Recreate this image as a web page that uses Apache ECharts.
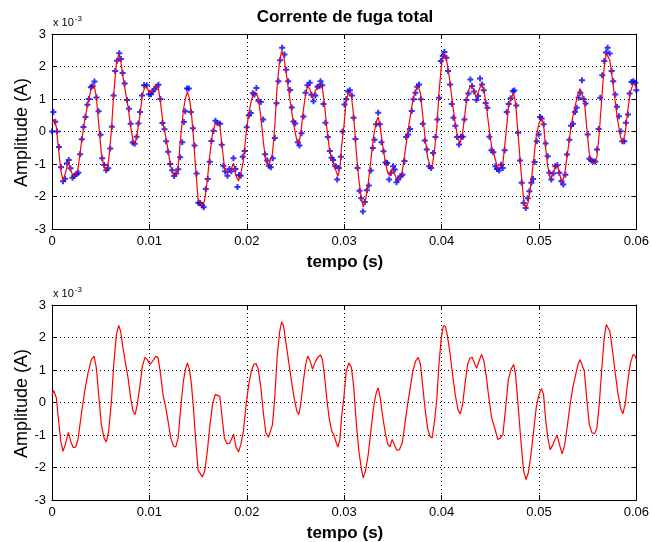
<!DOCTYPE html>
<html>
<head>
<meta charset="utf-8">
<script src="https://cdn.jsdelivr.net/npm/echarts@6/dist/echarts.min.js"></script>
<style>
html,body{margin:0;padding:0;background:#fff;}
#main{width:652px;height:542px;}
</style>
</head>
<body>
<div id="main"></div>
<script>
// tempo em ms, amplitude em 1e-3 A

// pontos azuis (amostras) do grafico de cima
var dotsTop = [
[0,0],[0.14,0.6],[0.34,0.3],[0.52,0.0],[0.72,-0.48],[0.93,-1.1],[1.13,-1.53],[1.34,-1.45],[1.55,-0.98],[1.72,-0.88],
[1.89,-1.13],[2.1,-1.42],[2.3,-1.36],[2.51,-1.31],[2.71,-1.27],[2.89,-0.7],[3.06,-0.24],[3.23,0.14],[3.44,0.45],[3.64,0.82],
[3.78,1.0],[3.99,1.36],[4.16,1.4],[4.36,1.54],[4.57,1.05],[4.78,0.62],[4.98,-0.1],[5.15,-0.82],[5.36,-1.03],[5.57,-1.19],
[5.77,-1.13],[5.98,-0.52],[6.15,0.15],[6.32,1.11],[6.49,1.86],[6.67,2.18],[6.91,2.41],[7.08,2.23],[7.25,1.8],[7.46,1.48],
[7.7,0.97],[7.9,0.7],[8.08,0.24],[8.28,-0.34],[8.49,-0.38],[8.69,-0.16],[8.87,0.25],[9.04,0.6],[9.24,1.11],[9.45,1.42],
[9.73,1.42],[9.97,1.15],[10.17,1.15],[10.34,1.24],[10.52,1.3],[10.72,1.38],[10.93,1.44],[11.13,1.0],[11.34,0.26],[11.55,0.07],
[11.72,-0.3],[11.92,-0.62],[12.13,-1.0],[12.34,-1.19],[12.54,-1.37],[12.75,-1.29],[12.96,-1.16],[13.16,-0.79],[13.37,-0.33],[13.54,0.29],
[13.68,0.62],[13.85,1.32],[14.05,1.32],[14.26,0.6],[14.47,0.1],[14.64,-0.43],[14.85,-1.29],[15.02,-2.19],
[15.21,-2.2],[15.41,-2.27],[15.58,-2.33],[15.79,-1.77],[15.99,-1.46],[16.2,-0.93],[16.37,-0.29],[16.58,0.02],[16.78,0.33],[16.99,0.26],
[17.26,0.24],[17.43,-0.41],[17.6,-1.05],[17.77,-1.22],[18.01,-1.36],[18.22,-1.15],[18.42,-1.22],[18.63,-0.82],[18.84,-1.15],[19.04,-1.71],
[19.21,-1.34],[19.38,-1.36],[19.59,-0.78],[19.79,-0.6],[20.0,0.13],[20.21,0.49],[20.41,0.57],[20.62,1.18],[20.79,1.14],[20.99,1.34],
[21.2,0.95],[21.44,0.91],[21.68,0.37],[21.88,-0.7],[22.09,-0.89],[22.26,-1.05],[22.47,-1.1],[22.67,-0.82],[22.88,-0.2],[23.05,0.87],
[23.25,1.55],[23.42,2.19],[23.63,2.58],[23.87,2.37],[24.04,1.9],[24.25,1.55],[24.45,1.28],[24.62,0.74],[24.79,0.31],[24.97,0.25],
[25.24,-0.33],[25.41,-0.43],[25.62,-0.05],[25.82,0.46],[26.03,1.19],[26.23,1.42],[26.47,1.5],[26.64,1.13],[26.85,0.93],[27.05,1.11],
[27.26,1.38],[27.47,1.4],
[27.57,1.55],[27.74,1.42],[27.88,0.85],[28.08,0.27],[28.32,-0.17],[28.53,-0.6],[28.7,-0.81],[28.87,-0.88],[29.08,-1.07],[29.28,-1.48],
[29.45,-1.12],[29.66,-0.78],[29.83,0.0],[30.03,0.83],[30.21,0.99],[30.38,1.23],[30.58,1.27],[30.79,1.11],[30.96,0.42],[31.16,-0.23],
[31.37,-1.12],[31.57,-1.82],[31.74,-2.05],[31.92,-2.46],[32.12,-2.17],[32.33,-1.81],[32.53,-1.66],[32.74,-1.2],[32.94,-0.51],[33.11,-0.25],
[33.28,0.22],[33.49,0.58],[33.66,0.22],[33.83,-0.33],[34.04,-0.61],[34.24,-0.95],[34.41,-0.97],[34.62,-1.48],[34.82,-1.27],[35.03,-1.07],
[35.2,-1.17],[35.37,-1.56],[35.54,-1.48],[35.78,-1.38],[35.98,-1.33],[36.19,-0.91],[36.36,-0.17],[36.57,-0.09],[36.77,0.08],[36.94,0.63],
[37.11,0.99],[37.32,1.19],[37.49,1.38],[37.69,1.45],[37.87,0.99],[38.07,0.24],[38.28,-0.28],[38.48,-0.55],[38.72,-1.07],[38.93,-1.12],
[39.13,-0.66],[39.37,-0.17],[39.58,0.37],[39.75,1.04],[39.92,2.17],[40.12,2.32],[40.29,2.45],[40.5,2.27],[40.67,1.86],[40.88,1.45],
[41.05,0.85],[41.22,0.42],[41.42,0.18],[41.59,-0.17],[41.8,-0.4],[42.0,-0.16],[42.18,-0.16],[42.35,0.37],[42.55,0.97],[42.76,1.17],
[42.96,1.6],[43.13,1.4],[43.34,1.23],[43.58,0.97],[43.75,1.09],[43.95,1.63],[44.16,1.45],[44.33,1.27],[44.53,0.88],[44.71,0.73],
[44.91,-0.16],[45.12,-0.58],[45.32,-0.64],[45.53,-1.07],[45.7,-1.15],[45.9,-1.2],[46.11,-1.02],[46.28,-1.12],[46.48,-0.58],[46.69,0.6],
[46.89,0.85],[47.1,1.02],[47.31,1.24],[47.48,1.26],[47.68,0.8],[47.85,-0.04],[48.06,-0.89],[48.23,-1.58],[48.43,-2.2],[48.64,-2.35],
[48.84,-2.05],[49.02,-1.84],[49.22,-1.58],[49.39,-1.46],[49.56,-0.94],[49.77,-0.3],[49.97,-0.09],[50.11,0.45],[50.28,0.4],[50.48,0.22],
[50.69,-0.37],[50.9,-0.76],[51.07,-1.27],[51.27,-1.48],[51.48,-1.29],[51.68,-1.07],[51.89,-1.04],[52.09,-1.27],[52.3,-1.53],[52.5,-1.63],
[52.71,-1.33],[52.88,-0.71],[53.12,-0.25],[53.29,0.18],[53.5,0.24],[53.7,0.6],[53.87,0.73],[54.08,1.04],[54.25,1.19],[54.42,1.58],
[54.59,1.0],[54.79,0.86],[55.0,-0.09],[55.17,-0.84],[55.38,-0.89],[55.58,-0.92],[55.79,-0.92],[55.96,-0.55],[56.13,0.08],[56.3,1.04],
[56.5,1.73],[56.71,2.17],[56.88,2.43],[57.05,2.58],[57.26,2.4],[57.46,1.86],[57.63,1.55],[57.84,1.14],[58.01,0.76],[58.21,0.47],
[58.39,0.01],[58.56,-0.3],[58.76,-0.3],[58.93,0.27],[59.14,0.52],[59.31,1.17],[59.51,1.52],[59.69,1.55],[59.89,1.5],[60.0,1.27]
];

// curva vermelha (sinal filtrado), igual nos dois graficos
var curve = [
[0,0.22],[0.17,0.37],[0.45,0.14],[0.68,-0.57],[0.9,-1.19],[1.13,-1.5],[1.37,-1.29],[1.68,-0.92],[1.92,-1.19],[2.19,-1.39],
[2.43,-1.37],[2.67,-1.14],[3.01,-0.37],[3.36,0.35],[3.7,0.91],[4.04,1.32],[4.32,1.43],[4.55,1.07],[4.79,0.25],[5.07,-0.68],
[5.34,-1.09],[5.58,-1.21],[5.82,-0.88],[6.1,0.04],[6.34,1.17],[6.61,2.09],[6.85,2.37],[7.05,2.19],[7.29,1.68],[7.57,1.17],
[7.81,0.76],[8.08,0.14],[8.32,-0.27],[8.53,-0.37],[8.73,-0.11],[9.0,0.45],[9.28,1.12],[9.55,1.39],[9.79,1.32],[10.07,1.17],
[10.34,1.27],[10.65,1.42],[10.89,1.39],[11.13,0.91],[11.4,0.25],[11.68,-0.16],[11.92,-0.57],[12.19,-1.09],[12.47,-1.34],[12.71,-1.37],
[12.95,-1.09],[13.22,-0.16],[13.49,0.66],[13.7,1.02],[13.9,1.22],[14.11,1.02],[14.32,0.55],[14.55,-0.27],[14.76,-1.19],[15.0,-2.08],
[15.44,-2.29],[15.68,-2.11],[15.95,-1.5],[16.22,-0.68],[16.49,-0.06],[16.76,0.25],[16.96,0.3],[17.23,0.19],[17.47,-0.47],[17.7,-1.09],
[17.97,-1.27],[18.24,-1.26],[18.48,-1.09],[18.65,-0.98],[18.89,-1.37],[19.16,-1.52],[19.39,-1.29],[19.66,-0.88],[19.93,-0.06],[20.2,0.55],
[20.47,0.96],[20.71,1.17],[20.95,1.2],[21.18,1.02],[21.45,0.45],[21.72,-0.37],[21.96,-0.93],[22.23,-1.07],[22.43,-1.07],[22.64,-0.68],
[22.87,0.14],[23.11,1.37],[23.38,2.19],[23.58,2.48],[23.78,2.35],[24.05,1.78],[24.32,1.22],[24.59,0.66],[24.86,0.14],[25.14,-0.27],
[25.34,-0.37],[25.54,-0.06],[25.81,0.66],[26.05,1.17],[26.25,1.43],[26.49,1.29],[26.76,1.02],[27.03,1.25],[27.3,1.39],[27.57,1.46],
[27.77,1.32],[27.97,0.86],[28.21,0.14],[28.45,-0.47],[28.72,-0.88],[28.95,-1.01],[29.19,-1.24],[29.36,-1.37],[29.56,-1.14],[29.73,-0.47],
[30.0,0.25],[30.21,0.96],[30.48,1.22],[30.75,1.07],[30.99,0.45],[31.23,-0.57],[31.51,-1.5],[31.75,-2.01],[31.95,-2.32],[32.19,-2.11],
[32.47,-1.6],[32.74,-0.88],[33.01,-0.16],[33.29,0.3],[33.49,0.45],[33.7,0.14],[33.97,-0.47],[34.25,-0.98],[34.49,-1.29],[34.69,-1.36],
[34.93,-1.14],[35.14,-1.29],[35.41,-1.47],[35.68,-1.45],[35.96,-1.24],[36.23,-0.68],[36.51,-0.06],[36.78,0.45],[37.05,0.96],[37.33,1.27],
[37.6,1.39],[37.84,1.17],[38.08,0.45],[38.32,-0.22],[38.56,-0.78],[38.8,-1.04],[39.04,-1.09],[39.28,-0.57],[39.52,0.14],[39.73,1.17],
[39.97,1.99],[40.17,2.35],[40.38,2.35],[40.58,2.09],[40.86,1.53],[41.13,0.86],[41.4,0.25],[41.68,-0.22],[41.92,-0.35],[42.16,-0.06],
[42.4,0.55],[42.67,1.17],[42.91,1.37],[43.15,1.39],[43.36,1.22],[43.6,1.05],[43.84,1.27],[44.11,1.48],[44.35,1.27],[44.59,0.81],
[44.86,0.14],[45.14,-0.47],[45.5,-0.83],[45.77,-1.14],[46.04,-1.09],[46.3,-0.98],[46.58,-0.16],[46.86,0.71],[47.13,1.02],[47.4,1.17],
[47.6,0.86],[47.88,-0.16],[48.15,-1.19],[48.43,-2.11],[48.67,-2.37],[48.91,-2.16],[49.18,-1.6],[49.45,-0.88],[49.72,-0.16],[50.0,0.25],
[50.26,0.43],[50.47,0.25],[50.67,-0.47],[50.91,-1.09],[51.15,-1.45],[51.42,-1.31],[51.63,-1.14],[51.87,-1.01],[52.1,-1.29],[52.38,-1.58],
[52.65,-1.29],[52.93,-0.68],[53.2,-0.06],[53.47,0.45],[53.74,0.81],[54.01,1.17],[54.22,1.32],[54.42,1.32],[54.66,0.96],[54.9,0.14],
[55.17,-0.68],[55.44,-0.93],[55.71,-0.96],[55.95,-0.78],[56.19,-0.06],[56.46,1.07],[56.7,1.99],[56.91,2.4],[57.08,2.45],[57.28,2.19],
[57.56,1.58],[57.83,0.91],[58.1,0.3],[58.37,-0.16],[58.61,-0.35],[58.85,-0.06],[59.12,0.66],[59.4,1.22],[59.67,1.48],[59.88,1.43],
[60.0,1.32]
];

var xTicks = [0, 10, 20, 30, 40, 50, 60];          // ms -> 0 .. 0.06 s
var yTicks = [-3, -2, -1, 0, 1, 2, 3];             // x 10^-3 A
var titleText = 'Corrente de fuga total';
var xName = 'tempo (s)';
var yName = 'Amplitude (A)';

var chart = echarts.init(document.getElementById('main'), null, {renderer: 'canvas'});
var fontFam = '"Liberation Sans", Arial, Helvetica, sans-serif';
var grids = [
    {left: 52, top: 34, width: 586, height: 195},
    {left: 52, top: 305, width: 586, height: 195}
];

function xFmt(v) { return v === 0 ? '0' : (v / 1000).toFixed(2); }

function makeX(gi, pos) {
    var main = pos === 'bottom';
    return {
        type: 'value', gridIndex: gi, position: pos,
        min: xTicks[0], max: xTicks[xTicks.length - 1], interval: 10,
        axisLine: {show: true, onZero: false, lineStyle: {color: '#000', width: 1}},
        axisTick: {show: true, inside: true, length: 5, lineStyle: {color: '#000'}},
        axisLabel: {show: main, margin: 6, color: '#000', fontSize: 13, fontFamily: fontFam, formatter: xFmt},
        splitLine: {show: main, lineStyle: {color: '#000', type: [1, 3], width: 1}}
    };
}
function makeY(gi, pos) {
    var main = pos === 'left';
    return {
        type: 'value', gridIndex: gi, position: pos,
        min: yTicks[0], max: yTicks[yTicks.length - 1], interval: 1,
        axisLine: {show: true, onZero: false, lineStyle: {color: '#000', width: 1}},
        axisTick: {show: true, inside: true, length: 5, lineStyle: {color: '#000'}},
        axisLabel: {show: main, margin: 6, color: '#000', fontSize: 13, fontFamily: fontFam},
        splitLine: {show: main, lineStyle: {color: '#000', type: [1, 3], width: 1}}
    };
}

var plusPath = 'path://M1,0H2V1H3V2H2V3H1V2H0V1H1Z';

var graphics = [
    {type: 'text', position: [345, 17],
     style: {text: titleText, align: 'center', verticalAlign: 'middle',
             font: 'bold 17px ' + fontFam, fill: '#000'}}
];
grids.forEach(function (g) {
    var cy = g.top + g.height / 2;
    graphics.push({type: 'text', position: [53, g.top - 11], style: {
        text: '{a|x 10}{b|-3}', align: 'left', verticalAlign: 'middle', fill: '#000',
        rich: {a: {fontSize: 11, fontFamily: fontFam, fill: '#000'},
               b: {fontSize: 8, fontFamily: fontFam, fill: '#000', verticalAlign: 'top', padding: [0, 0, 8, 1]}}
    }});
    graphics.push({type: 'text', position: [22, cy + 1], rotation: Math.PI / 2, style: {
        text: yName, align: 'center', verticalAlign: 'middle', font: '18px ' + fontFam, fill: '#000'}});
    graphics.push({type: 'text', position: [g.left + g.width / 2, g.top + g.height + 33], style: {
        text: xName, align: 'center', verticalAlign: 'middle', font: 'bold 17px ' + fontFam, fill: '#000'}});
});

var option = {
    backgroundColor: '#fff',
    animation: false,
    grid: grids,
    xAxis: [makeX(0, 'bottom'), makeX(0, 'top'), makeX(1, 'bottom'), makeX(1, 'top')],
    yAxis: [makeY(0, 'left'), makeY(0, 'right'), makeY(1, 'left'), makeY(1, 'right')],
    graphic: graphics,
    series: [
        {
            name: 'amostras', type: 'scatter', xAxisIndex: 0, yAxisIndex: 0,
            data: dotsTop, symbol: plusPath, symbolSize: 6,
            itemStyle: {color: '#0000ff'}, z: 2
        },
        {
            name: 'curva', type: 'line', xAxisIndex: 0, yAxisIndex: 0,
            data: curve, showSymbol: false, symbol: 'none',
            lineStyle: {color: '#ff0000', width: 1.2}, z: 3
        },
        {
            name: 'curva2', type: 'line', xAxisIndex: 2, yAxisIndex: 2,
            data: curve, showSymbol: false, symbol: 'none',
            lineStyle: {color: '#ff0000', width: 1.2}, z: 3
        }
    ]
};
chart.setOption(option);
</script>
</body>
</html>
